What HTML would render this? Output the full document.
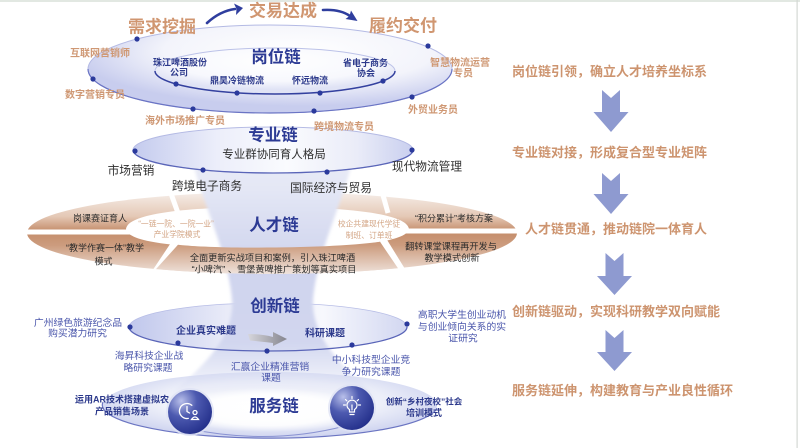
<!DOCTYPE html>
<html><head><meta charset="utf-8">
<style>
html,body{margin:0;padding:0;background:#fff;}
svg{display:block;}
text{font-family:"Liberation Sans","Noto Sans CJK SC",sans-serif;}
</style></head><body>
<svg width="800" height="448" viewBox="0 0 800 448" xmlns="http://www.w3.org/2000/svg">
<defs>
 <radialGradient id="gO" cx="0.58" cy="0.3" r="0.62">
  <stop offset="0" stop-color="#ffffff"/><stop offset="0.6" stop-color="#f3f4fb"/><stop offset="1" stop-color="#c8cdee"/>
 </radialGradient>
 <radialGradient id="gI" cx="0.5" cy="0.3" r="0.6">
  <stop offset="0" stop-color="#ffffff"/><stop offset="0.7" stop-color="#f7f8fd"/><stop offset="1" stop-color="#e0e3f5"/>
 </radialGradient>
 <linearGradient id="gZ" x1="0" x2="1" y1="0" y2="0">
  <stop offset="0" stop-color="#c4cbee"/><stop offset="0.3" stop-color="#eceefa"/><stop offset="0.55" stop-color="#fafbfe"/><stop offset="0.8" stop-color="#eaecf8"/><stop offset="1" stop-color="#c9cfef"/>
 </linearGradient>
 <linearGradient id="gN" x1="0" x2="1" y1="0" y2="0">
  <stop offset="0" stop-color="#c0c7ec"/><stop offset="0.35" stop-color="#e9ebf8"/><stop offset="0.7" stop-color="#f7f8fd"/><stop offset="1" stop-color="#d2d7f1"/>
 </linearGradient>
 <linearGradient id="gT" gradientUnits="userSpaceOnUse" x1="0" y1="192" x2="0" y2="274">
  <stop offset="0" stop-color="#f6eee9"/><stop offset="0.3" stop-color="#e4c8b5"/><stop offset="0.48" stop-color="#c48c6a"/><stop offset="0.65" stop-color="#cc9c7e"/><stop offset="1" stop-color="#efe3dc"/>
 </linearGradient>
 <linearGradient id="gF" gradientUnits="userSpaceOnUse" x1="0" y1="150" x2="0" y2="405">
  <stop offset="0" stop-color="#eaecf7"/><stop offset="0.15" stop-color="#e4e7f5"/><stop offset="0.45" stop-color="#cfd4ee"/><stop offset="0.75" stop-color="#d1d6ef"/><stop offset="1" stop-color="#d8dcf2" stop-opacity="0"/>
 </linearGradient>
 <radialGradient id="gS" cx="0.5" cy="0.45" r="0.58">
  <stop offset="0" stop-color="#ffffff"/><stop offset="0.55" stop-color="#f0f2fa"/><stop offset="1" stop-color="#c9cfee"/>
 </radialGradient>
 <radialGradient id="gW" cx="0.5" cy="0.5" r="0.5">
  <stop offset="0" stop-color="#ffffff"/><stop offset="0.7" stop-color="#ffffff" stop-opacity="0.85"/><stop offset="1" stop-color="#ffffff" stop-opacity="0"/>
 </radialGradient>
 <radialGradient id="gC" cx="0.3" cy="0.25" r="0.8">
  <stop offset="0" stop-color="#b9c0ea"/><stop offset="0.45" stop-color="#4d5ab0"/><stop offset="1" stop-color="#25318c"/>
 </radialGradient>
 <linearGradient id="gA" x1="0" x2="1" y1="0" y2="0">
  <stop offset="0" stop-color="#d6d6dc"/><stop offset="1" stop-color="#85858e"/>
 </linearGradient>
 <filter id="blur" x="-20%" y="-20%" width="140%" height="140%"><feGaussianBlur stdDeviation="1.5"/></filter>
</defs>

<rect x="0" y="0" width="800" height="2" fill="#e2e8e2"/>
<rect x="796.5" y="0" width="1.2" height="448" fill="#d4d8d4"/>

<path d="M207,23 Q220,11 235,9" stroke="#2f3e9e" stroke-width="2.6" fill="none" stroke-linecap="round"/>
<polygon points="234,3.5 243,8 236,15 236.5,9" fill="#2f3e9e"/>
<path d="M323,10 Q340,9 350,16" stroke="#2f3e9e" stroke-width="2.6" fill="none" stroke-linecap="round"/>
<polygon points="351,10.5 357.5,21 345.5,19 349.5,16" fill="#2f3e9e"/>

<ellipse cx="270" cy="69" rx="182" ry="44" fill="url(#gO)" stroke="#b4bae4" stroke-width="1"/>
<path d="M88,69 A182,44 0 0 0 452,69" fill="none" stroke="#6a74c4" stroke-width="1.2"/>
<ellipse cx="275" cy="71" rx="120" ry="23" fill="url(#gI)" stroke="#bcc2e8" stroke-width="1"/>
<path d="M155,71 A120,23 0 0 0 395,71" fill="none" stroke="#34419f" stroke-width="1.5"/>

<ellipse cx="270" cy="405" rx="167" ry="33" fill="url(#gS)"/>

<ellipse cx="268" cy="327" rx="139" ry="24" fill="url(#gN)" stroke="#b7bde6" stroke-width="0.8"/>

<path fill-rule="evenodd" fill="url(#gT)" d="M27,233 A245,41 0 1 0 517,233 A245,41 0 1 0 27,233 Z M126,229 C128,213 190,207 267,207 C344,207 407,213 409,229 C407,243 344,248 267,248 C190,248 128,244 126,229 Z"/>
<g stroke="#ffffff" fill="none">
 <path d="M18,232 L130,232" stroke-width="5"/>
 <path d="M405,231 L528,231" stroke-width="5"/>
 <path d="M178,213 L169,188" stroke-width="5"/>
 <path d="M381,188 L388,213" stroke-width="5"/>
 <path d="M175,243 L153,276" stroke-width="7"/>
 <path d="M383,240 L404,274" stroke-width="7"/>
</g>

<path d="M190,150 C200,200 228,250 232,300 C234,330 215,360 160,402 L385,402 C330,360 312,330 313,300 C317,250 345,200 355,150 Z" fill="url(#gF)" filter="url(#blur)"/>

<path d="M178,244.7 C215,249 330,249 380,241.8 L398,268.2 A245,41 0 0 1 156,269.1 Z" fill="url(#gT)"/>

<ellipse cx="273" cy="150" rx="140" ry="23" fill="url(#gZ)" stroke="#b4bae4" stroke-width="1"/>
<path d="M133,150 A140,23 0 0 0 413,150" fill="none" stroke="#5a65b8" stroke-width="1.3"/>

<path d="M129,327 A139,24 0 0 0 407,327" fill="none" stroke="#5a65b8" stroke-width="1.3"/>

<ellipse cx="268" cy="410" rx="100" ry="22" fill="url(#gW)"/>
<path d="M103,402 A167,33 0 0 0 437,408" fill="none" stroke="#6b75c2" stroke-width="1.2"/>
<path d="M185,428 Q268,446 345,426" fill="none" stroke="#8a93d2" stroke-width="1"/>
<circle cx="190" cy="412" r="24" fill="#dfe2f4" opacity="0.8"/>
<circle cx="190" cy="412" r="22" fill="url(#gC)"/>
<circle cx="352" cy="408" r="24" fill="#dfe2f4" opacity="0.8"/>
<circle cx="352" cy="408" r="22" fill="url(#gC)"/>
<g stroke="#ffffff" stroke-width="1.3" fill="none" stroke-linecap="round">
 <path d="M191.8,405.3 A7.5,7.5 0 1 0 188.3,418.4"/>
 <path d="M187,406.5 V411.5 L189.5,413"/>
 <circle cx="195" cy="412.5" r="2"/>
 <path d="M191.5,419.5 Q195,414.5 198.5,419.5 Z"/>
</g>
<g stroke="#ffffff" stroke-width="1.2" fill="none" stroke-linecap="round">
 <path d="M349.5,412 V409.5 A5,5 0 1 1 354.5,409.5 V412 Z"/>
 <path d="M350,414.5 H354"/>
 <path d="M352,405 V410"/>
 <path d="M352,396.5 V398.5"/>
 <path d="M345.5,399.5 L346.8,400.8"/>
 <path d="M358.5,399.5 L357.2,400.8"/>
 <path d="M343.5,405 H345.5"/>
 <path d="M360.5,405 H358.5"/>
</g>

<path d="M248,334 Q262,334 273,337 L273,332 L287,339 L273,346 L273,343 Q260,341.5 250,340.5 Z" fill="url(#gA)"/>

<g fill="#2b3a9c">
 <circle cx="137" cy="39" r="2.6"/><circle cx="93" cy="79" r="2.6"/><circle cx="193" cy="109" r="2.6"/>
 <circle cx="314" cy="111" r="2.6"/><circle cx="412" cy="97" r="2.6"/><circle cx="428" cy="46" r="2.6"/>
 <circle cx="176" cy="84" r="2.6"/><circle cx="237" cy="93" r="2.6"/><circle cx="320" cy="93" r="2.6"/><circle cx="383" cy="81" r="2.6"/>
 <circle cx="135" cy="151" r="2.6"/><circle cx="203" cy="170" r="2.6"/><circle cx="327" cy="172" r="2.6"/><circle cx="412" cy="150" r="2.6"/>
 <circle cx="130" cy="327" r="2.6"/><circle cx="178" cy="343" r="2.6"/><circle cx="267" cy="351" r="2.6"/><circle cx="352" cy="345" r="2.6"/><circle cx="407" cy="324" r="2.6"/>
</g>

<g fill="#d09670" font-weight="bold" font-size="17" text-anchor="middle">
 <text x="162" y="32.5">需求挖掘</text>
 <text x="283" y="16.5">交易达成</text>
 <text x="403" y="31.5">履约交付</text>
</g>

<g fill="#2c3a94" font-weight="bold" font-size="16.5" text-anchor="middle">
 <text x="276" y="62.3">岗位链</text>
 <text x="273" y="140.3">专业链</text>
 <text x="274" y="230.3">人才链</text>
 <text x="275" y="311.3">创新链</text>
 <text x="274" y="411.3">服务链</text>
</g>

<g fill="#2d3a8c" font-weight="bold" font-size="9" text-anchor="middle">
 <text x="180" y="65.4">珠江啤酒股份</text>
 <text x="179" y="75.4">公司</text>
 <text x="237" y="83.4">鼎昊冷链物流</text>
 <text x="310" y="83.4">怀远物流</text>
 <text x="365.5" y="66">省电子商务</text>
 <text x="366" y="76">协会</text>
</g>
<g fill="#cf9874" font-weight="bold" font-size="10" text-anchor="middle">
 <text x="100" y="56.3">互联网营销师</text>
 <text x="95" y="97.8">数字营销专员</text>
 <text x="185" y="123.8">海外市场推广专员</text>
 <text x="344" y="129.8">跨境物流专员</text>
 <text x="433" y="112.8">外贸业务员</text>
 <text x="460" y="65.8">智慧物流运营</text>
 <text x="463" y="76.3">专员</text>
</g>

<g fill="#2f2f2f" font-size="11.7" text-anchor="middle">
 <text x="274" y="158" font-size="11.5">专业群协同育人格局</text>
 <text x="131" y="174.4">市场营销</text>
 <text x="207" y="190">跨境电子商务</text>
 <text x="331" y="192">国际经济与贸易</text>
 <text x="427" y="170.5">现代物流管理</text>
</g>

<g fill="#2b2b2b" font-size="9" text-anchor="middle">
 <text x="100" y="221.4">岗课赛证育人</text>
 <text x="105" y="251">“教学作赛一体”教学</text>
 <text x="103.5" y="264.4">模式</text>
 <text x="272.5" y="261" font-size="9.2">全面更新实战项目和案例，引入珠江啤酒</text>
 <text x="274" y="272.5" font-size="9.2">“小啤汽” 、雪堡黄啤推广策划等真实项目</text>
 <text x="454" y="221.4">“积分累计”考核方案</text>
 <text x="451" y="249.5" font-size="9.2">翻转课堂课程再开发与</text>
 <text x="452" y="261" font-size="9.2">教学模式创新</text>
</g>
<g fill="#d3a585" font-size="7.8" text-anchor="middle">
 <text x="176" y="226.5">“一链一院、一院一业”</text>
 <text x="177" y="237">产业学院模式</text>
 <text x="369" y="226.5">校企共建现代学徒</text>
 <text x="369" y="238">制班、订单班</text>
</g>

<g fill="#2d3a8c" font-weight="bold" font-size="10" text-anchor="middle">
 <text x="206" y="333.8">企业真实难题</text>
 <text x="325" y="336.3">科研课题</text>
</g>
<g fill="#4a56ab" font-size="9.8" text-anchor="middle">
 <text x="78" y="325.8">广州绿色旅游纪念品</text>
 <text x="77.5" y="336.3">购买潜力研究</text>
 <text x="462" y="317.8">高职大学生创业动机</text>
 <text x="462" y="329.8">与创业倾向关系的实</text>
 <text x="463" y="341.3">证研究</text>
 <text x="149" y="358.8">海昇科技企业战</text>
 <text x="148" y="370.8">略研究课题</text>
 <text x="270" y="369.8">汇赢企业精准营销</text>
 <text x="271" y="380.8">课题</text>
 <text x="371" y="362.8">中小科技型企业竞</text>
 <text x="371" y="374.8">争力研究课题</text>
</g>

<g fill="#2d3a8c" font-weight="bold" font-size="9" text-anchor="middle">
 <text x="122" y="402.4">运用AR技术搭建虚拟农</text>
 <text x="122" y="414.4">产品销售场景</text>
 <text x="424" y="404.4" font-size="8.5">创新“乡村夜校”社会</text>
 <text x="424" y="416">培训模式</text>
</g>

<g fill="#cd946f" font-weight="bold" font-size="13">
 <text x="512" y="76">岗位链引领，确立人才培养坐标系</text>
 <text x="512" y="157">专业链对接，形成复合型专业矩阵</text>
 <text x="525" y="233.4">人才链贯通，推动链院一体育人</text>
 <text x="512" y="316">创新链驱动，实现科研教学双向赋能</text>
 <text x="512" y="395">服务链延伸，构建教育与产业良性循环</text>
</g>
<g fill="#8e9ad0">
 <polygon points="602,90 611,98 620,90 620,112 628.5,112 611,132 593.5,112 602,112"/>
 <polygon points="602,173 611,181 620,173 620,194 628.5,194 611,214 593.5,194 602,194"/>
 <polygon points="605.5,253 614.5,261 623.5,253 623.5,276 632,276 614.5,295 597,276 605.5,276"/>
 <polygon points="605.5,330 614.5,338 623.5,330 623.5,352 632,352 614.5,371 597,352 605.5,352"/>
</g>
</svg>
</body></html>
